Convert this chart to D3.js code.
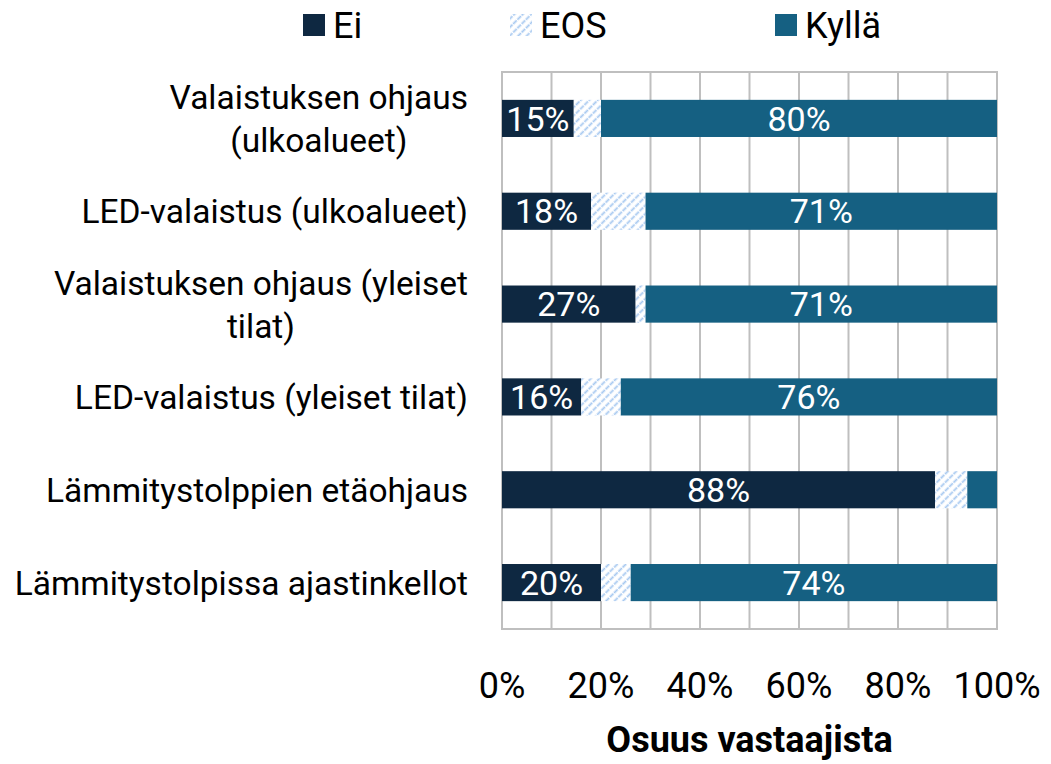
<!DOCTYPE html>
<html>
<head>
<meta charset="utf-8">
<script src="https://cdn.jsdelivr.net/npm/d3@7"></script>
<style>
  body { margin: 0; background: #fff; }
  text { font-family: Roboto, "Liberation Sans", sans-serif; }
</style>
</head>
<body>
<div id="chart"></div>
<script>
// Categories (top to bottom), each label may have several lines
const categories = [
  ["Valaistuksen ohjaus", "(ulkoalueet)"],
  ["LED-valaistus (ulkoalueet)"],
  ["Valaistuksen ohjaus (yleiset", "tilat)"],
  ["LED-valaistus (yleiset tilat)"],
  ["Lämmitystolppien etäohjaus"],
  ["Lämmitystolpissa ajastinkellot"]
];
const seriesNames = ["Ei", "EOS", "Kyllä"];
const eiValues    = [14.5, 18, 27, 16, 87.5, 20];
const eosValues   = [5.5, 11, 2, 8, 6.5, 6];
const kyllaValues = [80, 71, 71, 76, 6, 74];
const xTicks = [0, 20, 40, 60, 80, 100];

const width = 1051, height = 764;
const plot = { left: 502, right: 997, top: 72, bottom: 629 };

const svg = d3.select("#chart").append("svg")
  .attr("width", width)
  .attr("height", height);

// hatch for EOS
const defs = svg.append("defs");
const pat = defs.append("pattern")
  .attr("id", "hatch")
  .attr("patternUnits", "userSpaceOnUse")
  .attr("width", 6).attr("height", 6)
  .attr("patternTransform", "rotate(45)");
pat.append("rect").attr("width", 6).attr("height", 6).attr("fill", "#fff");
pat.append("line")
  .attr("x1", 1.5).attr("y1", 0).attr("x2", 1.5).attr("y2", 6)
  .attr("stroke", "#a6c8f0")
  .attr("stroke-width", 1.8)
  .attr("stroke-dasharray", "3,1");

const colors = { "Ei": "#0e2841", "EOS": "url(#hatch)", "Kyllä": "#156082" };

const x = d3.scaleLinear().domain([0, 100]).range([plot.left, plot.right]);
const y = d3.scaleBand()
  .domain(d3.range(categories.length))
  .range([plot.top, plot.bottom])
  .paddingInner(0.6).paddingOuter(0.3);

// gridlines
svg.append("g")
  .selectAll("line")
  .data(d3.range(0, 101, 10))
  .join("line")
    .attr("x1", d => x(d)).attr("x2", d => x(d))
    .attr("y1", plot.top).attr("y2", plot.bottom)
    .attr("stroke", "#bfbfbf")
    .attr("stroke-width", 2);

svg.append("rect")
  .attr("x", plot.left).attr("y", plot.top)
  .attr("width", plot.right - plot.left)
  .attr("height", plot.bottom - plot.top)
  .attr("fill", "none")
  .attr("stroke", "#bfbfbf")
  .attr("stroke-width", 2);

// stacked data
const rows = categories.map((c, i) => ({ i, Ei: eiValues[i], EOS: eosValues[i], "Kyllä": kyllaValues[i] }));
const stack = d3.stack().keys(seriesNames)(rows);

const layers = svg.append("g")
  .selectAll("g")
  .data(stack)
  .join("g")
    .attr("fill", d => colors[d.key]);

layers.selectAll("rect")
  .data(d => d)
  .join("rect")
    .attr("x", d => x(d[0]))
    .attr("y", d => y(d.data.i))
    .attr("width", d => x(d[1]) - x(d[0]))
    .attr("height", y.bandwidth());

// value labels (Ei and Kyllä, only where room)
stack.filter(s => s.key !== "EOS").forEach(s => {
  svg.append("g")
    .selectAll("text")
    .data(s.filter(d => d[1] - d[0] >= 10))
    .join("text")
      .attr("x", d => (x(d[0]) + x(d[1])) / 2)
      .attr("y", d => y(d.data.i) + y.bandwidth() / 2)
      .attr("dy", "0.36em")
      .attr("text-anchor", "middle")
      .attr("fill", "#fff")
      .style("font-size", "34px")
      .text(d => Math.round(d[1] - d[0]) + "%");
});

// category labels: block right-aligned, lines centred inside block
const labelRight = 468, lineGap = 43;
categories.forEach((lines, i) => {
  const cy = y(i) + y.bandwidth() / 2;
  const g = svg.append("g");
  const texts = g.selectAll("text")
    .data(lines)
    .join("text")
      .attr("y", (d, k) => cy + (k - (lines.length - 1) / 2) * lineGap)
      .attr("dy", "0.36em")
      .attr("text-anchor", "middle")
      .attr("fill", "#000")
      .style("font-size", "33.5px")
      .text(d => d);
  const widths = texts.nodes().map(n => n.getComputedTextLength());
  const maxW = d3.max(widths);
  texts.attr("x", labelRight - maxW / 2);
});

// x axis tick labels
svg.append("g")
  .selectAll("text")
  .data(xTicks)
  .join("text")
    .attr("x", d => x(d))
    .attr("y", 685)
    .attr("dy", "0.36em")
    .attr("text-anchor", "middle")
    .style("font-size", "36px")
    .text(d => d + "%");

svg.append("text")
  .attr("x", (plot.left + plot.right) / 2)
  .attr("y", 752)
  .attr("text-anchor", "middle")
  .style("font-size", "36px")
  .style("font-weight", "bold")
  .text("Osuus vastaajista");

// legend
const legendX = [303, 510, 775];
const legend = svg.append("g")
  .selectAll("g")
  .data(seriesNames)
  .join("g")
    .attr("transform", (d, i) => `translate(${legendX[i]},25)`);
legend.append("rect")
  .attr("x", 0).attr("y", -11)
  .attr("width", 22).attr("height", 22)
  .attr("fill", d => colors[d]);
legend.append("text")
  .attr("x", 30)
  .attr("dy", "0.36em")
  .style("font-size", "36px")
  .text(d => d);
</script>
</body>
</html>
